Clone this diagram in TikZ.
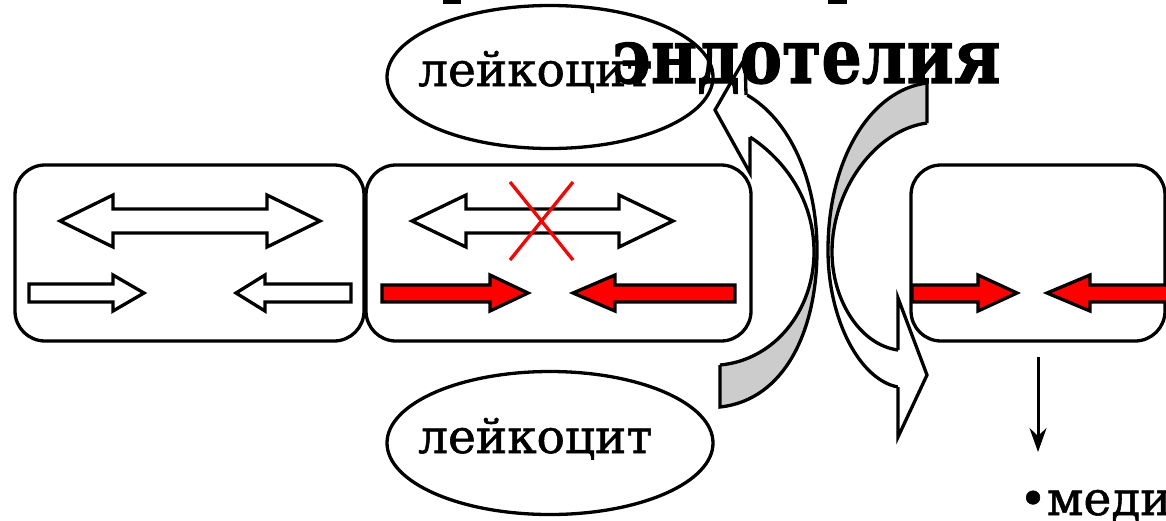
\documentclass[tikz,border=0pt]{standalone}
\usepackage{fontspec}
\setmainfont{DejaVu Serif}
\newfontfamily\lkfont{DejaVu Serif}[FakeBold=1.2]
\newfontfamily\bgfont{DejaVu Serif}[BoldFont={DejaVu Serif Bold},FakeBold=1.5]
\usetikzlibrary{arrows.meta,shapes.geometric}
\definecolor{pred}{RGB}{255,0,0}
\definecolor{pgray}{RGB}{204,204,204}
\begin{document}
\begin{tikzpicture}[x=1pt,y=-1pt,
  box/.style={draw,line width=3.3pt,rounded corners=30pt,inner sep=0pt,outer sep=0pt},
  oval/.style={draw,ellipse,line width=3.3pt,inner sep=0pt,outer sep=0pt,minimum width=326pt,minimum height=143pt},
  blk/.style={draw,line width=3.3pt,line join=miter,fill=white},
  redblk/.style={draw,line width=3.3pt,line join=miter,fill=pred},
  cross/.style={draw=pred,line width=3.3pt},
  curv/.style={draw,line width=3.3pt,line join=miter},
  lbl/.style={anchor=base west,inner sep=0pt,font=\lkfont\fontsize{47}{50}\selectfont},
  big/.style={anchor=base west,inner sep=0pt,font=\bgfont\fontsize{63.5}{64}\selectfont\bfseries}
]
\useasboundingbox (0,0) rectangle (1166,520);
\clip (0,0) rectangle (1166,520);

% cut-off marks of a line above
\fill (443,0) rectangle (461,4);
\fill (828,0) rectangle (847,4);

% boxes
\node[box,minimum width=349pt,minimum height=176pt] (b1) at (189.5,253) {};
\node[box,minimum width=385pt,minimum height=176pt] (b2) at (558.5,253) {};
\node[box,minimum width=254pt,minimum height=176pt] (b3) at (1038,253) {};

% box 1 arrows
\draw[blk] (60,221)--(113,195)--(113,209)--(267,209)--(267,195)--(320,221)--(267,247)--(267,233)--(113,233)--(113,247)--cycle;
\draw[blk] (29,284)--(113,284)--(113,275)--(144,293)--(113,311)--(113,302)--(29,302)--cycle;
\draw[blk] (351,284)--(265,284)--(265,275)--(236,293)--(265,311)--(265,302)--(351,302)--cycle;

% box 2 arrows
\draw[blk] (412,221)--(466,195)--(466,209)--(619,209)--(619,195)--(673,221)--(619,247)--(619,233)--(466,233)--(466,247)--cycle;
\draw[cross] (510,182)--(573,260);
\draw[cross] (573,182)--(510,260);
\draw[redblk] (382,285)--(490,285)--(490,275)--(528,293)--(490,311)--(490,302)--(382,302)--cycle;
\draw[redblk] (735,285)--(615,285)--(615,275)--(573,293)--(615,311)--(615,302)--(735,302)--cycle;

% box 3 arrows
\draw[redblk] (912,285)--(978,285)--(978,275)--(1017,293)--(978,311)--(978,302)--(912,302)--cycle;
\draw[redblk] (1175,285)--(1090,285)--(1090,275)--(1047,293)--(1090,311)--(1090,302)--(1175,302)--cycle;

% ellipses
\node[oval] (e1) at (550,77) {};
\node[oval] (e2) at (550,443) {};

% left curved arrow
\fill[white] (747,95) .. controls (790,120) and (817,180) .. (817,250)
  -- (814,252) .. controls (814,200) and (785,160) .. (750,137) -- cycle;
\fill[pgray] (817,250) .. controls (817,330) and (785,400) .. (720,407)
  -- (720,365) .. controls (775,360) and (814,310) .. (814,252) -- cycle;
\draw[curv] (747,95) .. controls (790,120) and (817,180) .. (817,250)
  .. controls (817,330) and (785,400) .. (720,407) -- (720,365);
\draw[curv] (750,137) .. controls (785,160) and (814,200) .. (814,252)
  .. controls (814,310) and (775,360) .. (720,365);
\fill[white] (745,58)--(715,110)--(750,173)--cycle;
\draw[curv] (746,95)--(745,58)--(715,110)--(750,173)--(750,137);

% right curved arrow
\fill[pgray] (927,83) .. controls (870,90) and (828,160) .. (828,250)
  -- (832,252) .. controls (832,190) and (875,130) .. (927,123) -- cycle;
\fill[white] (828,250) .. controls (828,320) and (860,380) .. (898,387)
  -- (898,350) .. controls (860,345) and (832,300) .. (832,252) -- cycle;
\draw[curv] (927,123)--(927,83) .. controls (870,90) and (828,160) .. (828,250)
  .. controls (828,320) and (860,380) .. (898,387);
\draw[curv] (927,123) .. controls (875,130) and (832,190) .. (832,252)
  .. controls (832,300) and (860,345) .. (898,350);
\fill[white] (898,298)--(927,375)--(898,437)--cycle;
\draw[curv] (898,350)--(898,298)--(927,375)--(898,437)--(898,387);

% texts
\node[lbl] (t1) at (418,86) {лейкоцит};
\node[lbl] (t2) at (418,453) {лейкоцит};
\node[big] (endo) at (612,83) {\scalebox{1}[1.2]{эндотелия}};
\node[lbl] (med) at (1019,515) {•меди};

% down arrow
\coordinate (dend) at (1038,452);
\draw[line width=3pt,-{Stealth[length=24pt,width=17pt,inset=8pt]}] ([yshift=-16pt]b3.south) -- (dend);
\end{tikzpicture}
\end{document}
